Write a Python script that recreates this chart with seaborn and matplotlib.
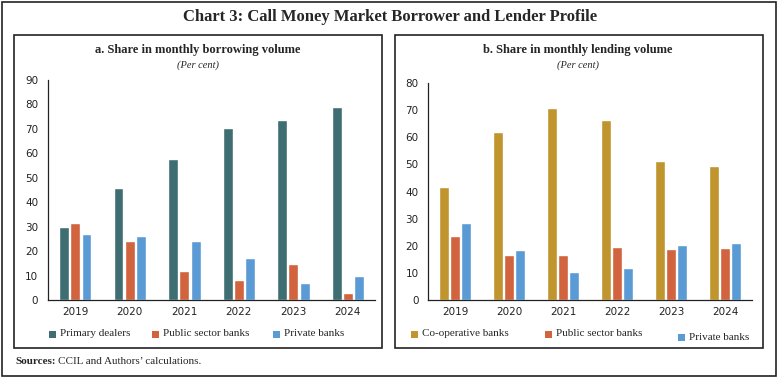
import pandas as pd
import matplotlib.pyplot as plt
import seaborn as sns
from matplotlib.patches import Rectangle

years = ['2019', '2020', '2021', '2022', '2023', '2024']

# borrowing shares (per cent)
primary_dealers = [29.8, 45.7, 57.7, 70.4, 73.7, 79.0]
psb_borrow = [31.4, 24.2, 11.9, 8.3, 14.6, 2.7]
pvt_borrow = [27.0, 26.3, 24.2, 17.2, 7.1, 9.7]

# lending shares (per cent)
coop_banks = [41.8, 61.9, 70.9, 66.2, 51.4, 49.4]
psb_lend = [23.6, 16.5, 16.6, 19.5, 18.9, 19.2]
pvt_lend = [28.3, 18.3, 10.3, 11.8, 20.3, 21.0]

borrow_names = ['Primary dealers', 'Public sector banks', 'Private banks']
lend_names = ['Co-operative banks', 'Public sector banks', 'Private banks']
borrow_colors = ['#3f6e72', '#d1633f', '#5b9bd5']
lend_colors = ['#c0952e', '#d1633f', '#5b9bd5']


def to_long(names, series):
    rows = []
    for name, vals in zip(names, series):
        for y, v in zip(years, vals):
            rows.append({'year': y, 'group': name, 'value': v})
    return pd.DataFrame(rows)


df_b = to_long(borrow_names, [primary_dealers, psb_borrow, pvt_borrow])
df_l = to_long(lend_names, [coop_banks, psb_lend, pvt_lend])

sns.set_style('white')
plt.rcParams['font.family'] = ['DejaVu Sans']
serif = 'Liberation Serif'

W, H = 780, 379
fig = plt.figure(figsize=(7.8, 3.79), dpi=100)
ax1 = fig.add_axes([0.0615, 0.2084, 0.4195, 0.5806])
ax2 = fig.add_axes([0.549, 0.2084, 0.415, 0.5726])

# frames
fig.patches.append(Rectangle((2/W, 3/H), 774/W, 374/H, transform=fig.transFigure,
                             fill=False, lw=1.2, ec='#222222'))
for x0 in (14, 395):
    fig.patches.append(Rectangle((x0/W, (H-348)/H), 368/W, 313/H,
                                 transform=fig.transFigure, fill=False, lw=1.2, ec='#222222'))


def draw(ax, df, names, colors, ymax, title, cx, legend_pos):
    sns.barplot(data=df, x='year', y='value', hue='group', hue_order=names,
                palette=colors, width=0.62, gap=0.12, saturation=1, ax=ax, legend=False)
    ax.set_xlim(-0.5, 5.5)
    ax.set_ylim(0, ymax)
    ax.set_yticks(range(0, ymax + 1, 10))
    ax.set_xlabel('')
    ax.set_ylabel('')
    sns.despine(ax=ax)
    for s in ('left', 'bottom'):
        ax.spines[s].set_color('#222222')
        ax.spines[s].set_linewidth(0.9)
    ax.set_xticks([i - 0.5 for i in range(7)], minor=True)
    ax.tick_params(axis='x', which='major', length=0, labelsize=7.5, pad=5, colors='#222222')
    ax.tick_params(axis='x', which='minor', length=4, width=0.9, direction='out', color='#222222')
    ax.tick_params(axis='y', length=4, width=0.9, direction='out', labelsize=7.5, pad=3,
                   colors='#222222')
    fig.text(cx/W, 1 - 50/H, title, ha='center', va='center', fontfamily=serif,
             fontweight='bold', fontsize=9)
    fig.text(cx/W, 1 - 65/H, '(Per cent)', ha='center', va='center', fontfamily=serif,
             style='italic', fontsize=7.5)
    for c, n, (px, py) in zip(colors, names, legend_pos):
        fig.patches.append(Rectangle((px/W, (H-py-3.5)/H), 7/W, 7/H,
                                     transform=fig.transFigure, fc=c, ec='none'))
        fig.text((px + 11)/W, (H-py)/H, n, ha='left', va='center',
                 fontfamily=serif, fontsize=8)


draw(ax1, df_b, borrow_names, borrow_colors, 90, 'a. Share in monthly borrowing volume', 198,
     [(49, 334), (152, 334), (273, 334)])
draw(ax2, df_l, lend_names, lend_colors, 80, 'b. Share in monthly lending volume', 578,
     [(411, 334), (545, 334), (678, 337)])

fig.text(0.5, 1 - 17/H, 'Chart 3: Call Money Market Borrower and Lender Profile',
         ha='center', va='center', fontfamily=serif, fontweight='bold', fontsize=12)
src = fig.text(15/W, 1 - 361/H, 'Sources:', ha='left', va='center', fontfamily=serif,
               fontweight='bold', fontsize=8)
fig.canvas.draw()
bb = src.get_window_extent()
fig.text((bb.x1 + 3)/W, 1 - 361/H, 'CCIL and Authors\u2019 calculations.', ha='left',
         va='center', fontfamily=serif, fontsize=8)

fig.savefig('out.png', dpi=100)
